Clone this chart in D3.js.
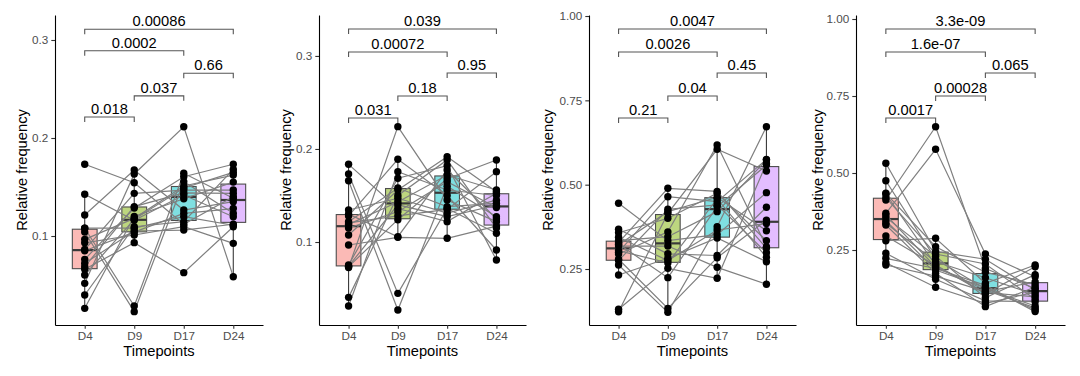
<!DOCTYPE html>
<html>
<head>
<meta charset="utf-8">
<script src="https://cdn.jsdelivr.net/npm/d3@7"></script>
<style>
  body { margin: 0; background: #fff; }
  svg { display: block; font-family: "Liberation Sans", Arial, Helvetica, sans-serif; }
</style>
</head>
<body>
<svg id="chart" width="1080" height="376"></svg>
<script>
const timepoints = ['D4', 'D9', 'D17', 'D24'];
const fillColors = ['#F8766D', '#7CAE00', '#00BFC4', '#C77CFF'];
const bracketPairs = [['D4', 'D9'], ['D9', 'D17'], ['D17', 'D24'], ['D4', 'D17'], ['D4', 'D24']];

// panel A (one value per subject, same subject order in each array)
const aD4  = [0.1732, 0.104, 0.1079, 0.0262, 0.0398, 0.0517, 0.0602, 0.066, 0.0687, 0.0721, 0.0762, 0.085, 0.0862, 0.093, 0.0966, 0.108, 0.1214, 0.1426];
const aD9  = [0.1544, 0.0228, 0.0286, 0.120, 0.1095, 0.1633, 0.117, 0.0932, 0.13, 0.1051, 0.1285, 0.104, 0.1435, 0.101, 0.118, 0.108, 0.1673, 0.116];
const aD17 = [0.112, 0.1554, 0.164, 0.138, 0.1146, 0.2115, 0.149, 0.0626, 0.144, 0.1061, 0.1605, 0.1231, 0.1469, 0.1095, 0.151, 0.1197, 0.1265, 0.1418];
const aD24 = [0.140, 0.1231, 0.1385, 0.155, 0.168, 0.0585, 0.165, 0.1095, 0.1435, 0.112, 0.1732, 0.128, 0.1469, 0.0925, 0.1622, 0.111, 0.135, 0.1197];
const aTicks = [0.1, 0.2, 0.3];
const aDomain = [0.0092, 0.3255];
const aBracketY = [0.2214, 0.243, 0.266, 0.289, 0.311];
const aLabels = ['0.018', '0.037', '0.66', '0.0002', '0.00086'];

// panel B
const bD4  = [0.0312, 0.0405, 0.0725, 0.0735, 0.074, 0.0753, 0.0968, 0.1075, 0.115, 0.119, 0.1205, 0.1219, 0.128, 0.130, 0.1344, 0.1659, 0.1731, 0.1835];
const bD9  = [0.1756, 0.150, 0.224, 0.1240, 0.140, 0.1685, 0.1050, 0.1559, 0.1326, 0.1430, 0.128, 0.158, 0.1889, 0.1057, 0.147, 0.0269, 0.0448, 0.136];
const bD17 = [0.1559, 0.1882, 0.1452, 0.168, 0.1272, 0.182, 0.104, 0.1917, 0.1648, 0.172, 0.135, 0.138, 0.150, 0.1774, 0.131, 0.160, 0.136, 0.1219];
const bD24 = [0.150, 0.115, 0.1219, 0.1882, 0.1395, 0.0806, 0.117, 0.154, 0.137, 0.1559, 0.1756, 0.1416, 0.0914, 0.125, 0.145, 0.1272, 0.1094, 0.1525];
const bTicks = [0.1, 0.2, 0.3];
const bDomain = [0.0108, 0.344];
const bBracketY = [0.2333, 0.257, 0.2817, 0.3043, 0.329];
const bLabels = ['0.031', '0.18', '0.95', '0.00072', '0.039'];

// panel C
const cD4  = [0.4448, 0.1234, 0.1305, 0.2322, 0.2619, 0.275, 0.279, 0.2945, 0.3, 0.3044, 0.318, 0.322, 0.3241, 0.328, 0.334, 0.344, 0.3576, 0.3677];
const cD9  = [0.334, 0.4151, 0.252, 0.2817, 0.1216, 0.427, 0.133, 0.36, 0.4644, 0.268, 0.318, 0.42, 0.2243, 0.4893, 0.3458, 0.275, 0.4003, 0.295];
const cD17 = [0.352, 0.6048, 0.2224, 0.342, 0.3754, 0.44, 0.2835, 0.6176, 0.4497, 0.458, 0.255, 0.4626, 0.435, 0.48, 0.42, 0.3656, 0.4744, 0.29];
const cD24 = [0.4763, 0.5406, 0.5634, 0.2717, 0.6719, 0.2984, 0.395, 0.316, 0.575, 0.285, 0.2046, 0.3636, 0.558, 0.312, 0.5731, 0.385, 0.334, 0.4329];
const cTicks = [0.25, 0.5, 0.75, 1.0];
const cDomain = [0.084, 1.003];
const cBracketY = [0.6977, 0.763, 0.831, 0.8934, 0.9615];
const cLabels = ['0.21', '0.04', '0.45', '0.0026', '0.0047'];

// panel D
const dD4  = [0.5315, 0.475, 0.4341, 0.4318, 0.42, 0.4123, 0.3691, 0.3636, 0.356, 0.345, 0.3367, 0.3312, 0.2955, 0.28, 0.2393, 0.223, 0.2088, 0.2013];
const dD9  = [0.245, 0.22, 0.2607, 0.2013, 0.237, 0.6503, 0.5769, 0.195, 0.23, 0.185, 0.2120, 0.1743, 0.200, 0.288, 0.155, 0.190, 0.1289, 0.165];
const dD17 = [0.22, 0.124, 0.178, 0.108, 0.2045, 0.19, 0.237, 0.12, 0.095, 0.128, 0.16, 0.066, 0.112, 0.1419, 0.085, 0.135, 0.077, 0.115];
const dD24 = [0.12, 0.068, 0.138, 0.1958, 0.09, 0.125, 0.163, 0.062, 0.17, 0.056, 0.105, 0.13, 0.098, 0.2013, 0.082, 0.05, 0.113, 0.146];
const dTicks = [0.25, 0.5, 0.75, 1.0];
const dDomain = [0.0065, 1.013];
const dBracketY = [0.6786, 0.75, 0.8247, 0.893, 0.9675];
const dLabels = ['0.0017', '0.00028', '0.065', '1.6e-07', '3.3e-09'];

const panels = [
  { series: [aD4, aD9, aD17, aD24], ticks: aTicks, domain: aDomain, bracketY: aBracketY, labels: aLabels, fmt: '.1f' },
  { series: [bD4, bD9, bD17, bD24], ticks: bTicks, domain: bDomain, bracketY: bBracketY, labels: bLabels, fmt: '.1f' },
  { series: [cD4, cD9, cD17, cD24], ticks: cTicks, domain: cDomain, bracketY: cBracketY, labels: cLabels, fmt: '.2f' },
  { series: [dD4, dD9, dD17, dD24], ticks: dTicks, domain: dDomain, bracketY: dBracketY, labels: dLabels, fmt: '.2f' }
];

// layout (pixels)
const layout = [
  { left: 55, right: 263, titleX: 22 },
  { left: 319, right: 526, titleX: 286 },
  { left: 589, right: 796, titleX: 548 },
  { left: 856, right: 1065, titleX: 818 }
];
const plotTop = 15;
const plotBottom = 325;

const svg = d3.select('#chart');

function boxStats(values) {
  const s = values.slice().sort(d3.ascending);
  const q1 = d3.quantileSorted(s, 0.25);
  const med = d3.quantileSorted(s, 0.5);
  const q3 = d3.quantileSorted(s, 0.75);
  const iqr = q3 - q1;
  const lo = d3.min(s.filter(v => v >= q1 - 1.5 * iqr));
  const hi = d3.max(s.filter(v => v <= q3 + 1.5 * iqr));
  return { q1, med, q3, lo, hi };
}

panels.forEach((p, pi) => {
  const lay = layout[pi];
  const g = svg.append('g');

  const x = d3.scalePoint()
    .domain(timepoints)
    .range([lay.left, lay.right])
    .padding(0.6);
  const y = d3.scaleLinear()
    .domain(p.domain)
    .range([plotBottom, plotTop]);
  const boxW = x.step() * 0.5;

  // boxplots
  const boxes = g.append('g');
  p.series.forEach((vals, i) => {
    const st = boxStats(vals);
    const cx = x(timepoints[i]);
    const bg = boxes.append('g');
    bg.append('line')
      .attr('x1', cx).attr('x2', cx)
      .attr('y1', y(st.hi)).attr('y2', y(st.q3))
      .attr('stroke', '#3a3a3a').attr('stroke-width', 1.1);
    bg.append('line')
      .attr('x1', cx).attr('x2', cx)
      .attr('y1', y(st.q1)).attr('y2', y(st.lo))
      .attr('stroke', '#3a3a3a').attr('stroke-width', 1.1);
    bg.append('rect')
      .attr('x', cx - boxW / 2)
      .attr('y', y(st.q3))
      .attr('width', boxW)
      .attr('height', y(st.q1) - y(st.q3))
      .attr('fill', fillColors[i])
      .attr('fill-opacity', 0.5)
      .attr('stroke', '#4d4d4d')
      .attr('stroke-width', 1.1);
    bg.append('line')
      .attr('x1', cx - boxW / 2).attr('x2', cx + boxW / 2)
      .attr('y1', y(st.med)).attr('y2', y(st.med))
      .attr('stroke', '#3a3a3a').attr('stroke-width', 2.2);
  });

  // paired lines
  const n = p.series[0].length;
  const subjects = d3.range(n).map(k => p.series.map((vals, i) => ({ t: timepoints[i], v: vals[k] })));
  const line = d3.line().x(d => x(d.t)).y(d => y(d.v));
  g.append('g').selectAll('path')
    .data(subjects)
    .enter()
    .append('path')
    .attr('d', line)
    .attr('fill', 'none')
    .attr('stroke', '#7f7f7f')
    .attr('stroke-width', 1.2);

  // points
  const pts = subjects.flat();
  g.append('g').selectAll('circle')
    .data(pts)
    .enter()
    .append('circle')
    .attr('cx', d => x(d.t))
    .attr('cy', d => y(d.v))
    .attr('r', 3.7)
    .attr('fill', '#000');

  // axes
  const yAxis = d3.axisLeft(y)
    .tickValues(p.ticks)
    .tickFormat(d3.format(p.fmt))
    .tickSizeInner(3.7)
    .tickSizeOuter(0)
    .tickPadding(3);
  const ya = g.append('g')
    .attr('transform', `translate(${lay.left},0)`)
    .call(yAxis);
  const xAxis = d3.axisBottom(x)
    .tickSizeInner(3.7)
    .tickSizeOuter(0)
    .tickPadding(3);
  const xa = g.append('g')
    .attr('transform', `translate(0,${plotBottom})`)
    .call(xAxis);
  [ya, xa].forEach(a => {
    a.select('.domain').attr('stroke', '#000').attr('stroke-width', 1.1);
    a.selectAll('.tick line').attr('stroke', '#333').attr('stroke-width', 1.1);
    a.selectAll('.tick text')
      .attr('fill', '#4d4d4d')
      .style('font-size', '11.7px')
      .style('font-family', '"Liberation Sans", Arial, sans-serif');
  });

  // axis titles
  g.append('text')
    .attr('x', (lay.left + lay.right) / 2)
    .attr('y', 356)
    .attr('text-anchor', 'middle')
    .style('font-size', '14.7px')
    .text('Timepoints');
  g.append('text')
    .attr('transform', `translate(${lay.titleX + 5},${(plotTop + plotBottom) / 2}) rotate(-90)`)
    .attr('text-anchor', 'middle')
    .style('font-size', '14.7px')
    .text('Relative frequency');

  // significance brackets
  const tip = 5;
  bracketPairs.forEach((pair, bi) => {
    const x1 = x(pair[0]);
    const x2 = x(pair[1]);
    const yy = y(p.bracketY[bi]);
    g.append('path')
      .attr('d', `M${x1},${yy + tip}V${yy}H${x2}V${yy + tip}`)
      .attr('fill', 'none')
      .attr('stroke', '#555')
      .attr('stroke-width', 1.1);
    g.append('text')
      .attr('x', (x1 + x2) / 2)
      .attr('y', yy - 3)
      .attr('text-anchor', 'middle')
      .style('font-size', '14.7px')
      .text(p.labels[bi]);
  });
});
</script>
</body>
</html>
